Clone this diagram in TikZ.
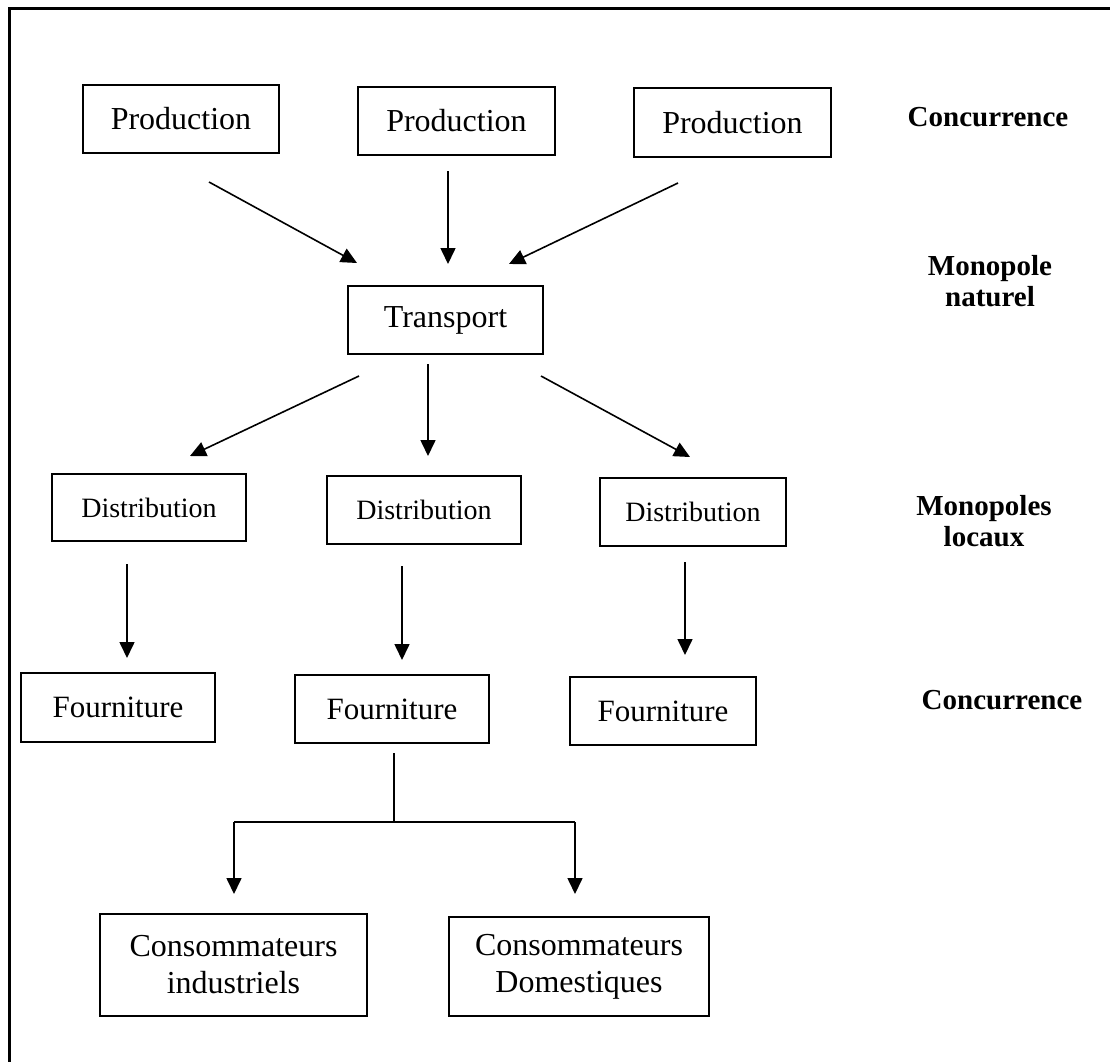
\documentclass[tikz,border=0pt]{standalone}
\usepackage{fontspec}
\setmainfont{Liberation Serif}
\usetikzlibrary{arrows.meta}
\begin{document}
\begin{tikzpicture}[x=1pt,y=-1pt,
  box/.style={draw, line width=2pt, inner sep=0pt, align=center,
    font=\fontsize{32}{37}\selectfont},
  lbl/.style={align=center, font=\fontsize{29}{31}\selectfont\bfseries},
  arr/.style={line width=1.6pt, -{Triangle[length=16pt,width=15pt]}},
  wire/.style={line width=1.6pt}]
\clip (0,0) rectangle (1110,1061);
\fill[white] (0,0) rectangle (1110,1061);
% outer frame, running off the page on the right and bottom
\draw[line width=3pt] (9,8) rectangle (1140,1090);

% production level
\node[box, minimum width=196pt, minimum height=68pt] (P1) at (181,119) {Production};
\node[box, minimum width=197pt, minimum height=68pt] (P2) at (456.5,121) {Production};
\node[box, minimum width=197pt, minimum height=69pt] (P3) at (732.5,122.5) {Production};
% transport
\node[box, minimum width=195pt, minimum height=68pt] (T) at (445.5,320) {Transport};
% distribution
\node[box, minimum width=194pt, minimum height=67pt, font=\fontsize{28}{32}\selectfont] (D1) at (149,507.5) {Distribution};
\node[box, minimum width=194pt, minimum height=68pt, font=\fontsize{28}{32}\selectfont] (D2) at (424,510) {Distribution};
\node[box, minimum width=186pt, minimum height=68pt, font=\fontsize{28}{32}\selectfont] (D3) at (693,512) {Distribution};
% supply
\node[box, minimum width=194pt, minimum height=69pt, font=\fontsize{31}{36}\selectfont] (F1) at (118,707.5) {Fourniture};
\node[box, minimum width=194pt, minimum height=68pt, font=\fontsize{31}{36}\selectfont] (F2) at (392,709) {Fourniture};
\node[box, minimum width=186pt, minimum height=68pt, font=\fontsize{31}{36}\selectfont] (F3) at (663,711) {Fourniture};
% consumers
\node[box, minimum width=267pt, minimum height=102pt] (C1) at (233.5,965) {Consommateurs\\industriels};
\node[box, minimum width=260pt, minimum height=99pt] (C2) at (579,966.5) {Consommateurs\\Domestiques};

% level labels
\node[lbl] (L1) at (988,117) {Concurrence};
\node[lbl] (L2) at (990,281) {Monopole\\naturel};
\node[lbl] (L3) at (984,521) {Monopoles\\locaux};
\node[lbl] (L4) at (1002,700) {Concurrence};

% arrow end points
\coordinate (a1s) at (209,182);  \coordinate (a1e) at (357,263);
\coordinate (a2s) at (448,171);  \coordinate (a2e) at (448,264);
\coordinate (a3s) at (678,183);  \coordinate (a3e) at (509,264);
\coordinate (b1s) at (359,376);  \coordinate (b1e) at (190,456);
\coordinate (b2s) at (428,364);  \coordinate (b2e) at (428,456);
\coordinate (b3s) at (541,376);  \coordinate (b3e) at (690,457);
\coordinate (c1s) at (127,564);  \coordinate (c1e) at (127,658);
\coordinate (c2s) at (402,566);  \coordinate (c2e) at (402,660);
\coordinate (c3s) at (685,562);  \coordinate (c3e) at (685,655);
\coordinate (t0) at (394,753);   \coordinate (t1) at (394,823);
\coordinate (tl) at (234,822);   \coordinate (tr) at (575,822);
\coordinate (tle) at (234,894);  \coordinate (tre) at (575,894);

\draw[arr] (a1s) -- (a1e);
\draw[arr] (a2s) -- (a2e);
\draw[arr] (a3s) -- (a3e);
\draw[arr] (b1s) -- (b1e);
\draw[arr] (b2s) -- (b2e);
\draw[arr] (b3s) -- (b3e);
\draw[arr] (c1s) -- (c1e);
\draw[arr] (c2s) -- (c2e);
\draw[arr] (c3s) -- (c3e);
\draw[wire] (t0) -- (t1);
\draw[wire] (tl) -- (tr);
\draw[arr] (tl) -- (tle);
\draw[arr] (tr) -- (tre);
\end{tikzpicture}
\end{document}
